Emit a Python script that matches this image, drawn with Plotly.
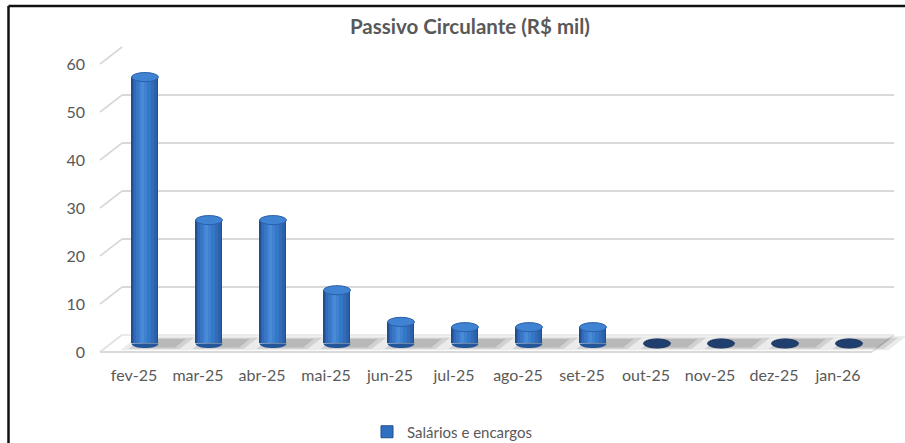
import plotly.graph_objects as go

# ---------------- data ----------------
months = ["fev-25", "mar-25", "abr-25", "mai-25", "jun-25", "jul-25",
          "ago-25", "set-25", "out-25", "nov-25", "dez-25", "jan-26"]
salarios = [55.5, 25.7, 25.7, 11.1, 4.5, 3.4, 3.4, 3.4, 0, 0, 0, 0]
y_ticks = [0, 10, 20, 30, 40, 50, 60]
series_name = "Salários e encargos"
title_text = "Passivo Circulante (R$ mil)"

# ---------------- geometry (pixels) ----------------
W, H = 905, 443
n = len(months)
x_first, cat_px = 134.0, 64.0        # pixel centre of first category, px per category
y0_front, ppu = 352.0, 4.8          # pixel of value 0 on the front plane, px per unit
depth_dx, depth_dy = 22.0, 17.0     # 3-D depth offset (px) from front to back wall
half_cat = 0.53
bar_w = 0.42
FONT = "Lato"
GREY_TXT = "#595959"
GRID = "#d9d9d9"

x_lo, x_hi = -half_cat, n - 1 + half_cat
y_lo_val, y_hi_val = 0, 60


def xdom(shift_px):
    left = x_first + x_lo * cat_px + shift_px
    right = x_first + x_hi * cat_px + shift_px
    return [left / W, right / W]


def ydom(shift_up_px, vlo, vhi):
    p_lo = y0_front - shift_up_px - vlo * ppu
    p_hi = y0_front - shift_up_px - vhi * ppu
    return [1 - p_lo / H, 1 - p_hi / H]


# depth in data units (front-plane coordinates)
ddx = depth_dx / cat_px
ddy = depth_dy / ppu

fig = go.Figure()

# ---- subplot 1 (x, y): back wall gridlines ----
fig.add_trace(go.Scatter(x=[], y=[], xaxis="x", yaxis="y", showlegend=False, hoverinfo="skip"))

# ---- subplot 2 (x2, y2): world / floor, depth lines, shadows ----
wx_range = [(0 - x_first) / cat_px, (W - x_first) / cat_px]
wy_range = [(y0_front - H) / ppu, y0_front / ppu]

# left wall depth lines
dl_x, dl_y = [], []
for v in y_ticks:
    dl_x += [x_lo, x_lo + ddx, None]
    dl_y += [v, v + ddy, None]
fig.add_trace(go.Scatter(x=dl_x, y=dl_y, mode="lines", xaxis="x2", yaxis="y2",
                         line=dict(color=GRID, width=1.6), showlegend=False, hoverinfo="skip"))

# floor
fx = [x_lo, x_hi, x_hi + ddx, x_lo + ddx, x_lo]
fy = [0, 0, ddy, ddy, 0]
fig.add_trace(go.Scatter(x=fx, y=fy, mode="lines", fill="toself", fillcolor="white",
                         xaxis="x2", yaxis="y2", line=dict(color="#e3e3e3", width=1.6),
                         showlegend=False, hoverinfo="skip"))
# front floor edge a bit stronger
fig.add_trace(go.Scatter(x=[x_lo, x_hi], y=[0, 0], mode="lines", xaxis="x2", yaxis="y2",
                         line=dict(color=GRID, width=2), showlegend=False, hoverinfo="skip"))

# soft shadows on the floor
for layer, (hw, d0, d1, op) in enumerate([(0.50, 0.10, 0.92, 0.12),
                                          (0.40, 0.18, 0.84, 0.17),
                                          (0.30, 0.26, 0.76, 0.22)]):
    sx, sy = [], []
    for i in range(n):
        cx = i + 0.25
        for (a, b) in [(cx - hw, d0), (cx + hw, d0), (cx + hw, d1), (cx - hw, d1), (cx - hw, d0)]:
            sx.append(a + b * ddx)
            sy.append(b * ddy)
        sx.append(None)
        sy.append(None)
    fig.add_trace(go.Scatter(x=sx, y=sy, mode="lines", fill="toself",
                             fillcolor=f"rgba(90,90,90,{op})", line=dict(width=0),
                             xaxis="x2", yaxis="y2", showlegend=False, hoverinfo="skip"))

# ---- subplot 3 (x3, y3): cylinders at mid depth ----
bar_ylo, bar_yhi = -4, 64
layers = [  # width, centre shift, colour
    (bar_w, 0.0, "#224f8b"),
    (bar_w * 0.90, -0.004, "#2b61a9"),
    (bar_w * 0.74, -0.012, "#316bb9"),
    (bar_w * 0.54, -0.022, "#3776c5"),
    (bar_w * 0.32, -0.032, "#3e81d0"),
    (bar_w * 0.14, -0.038, "#488cd9"),
]
xs = list(range(n))
for k, (w, s, col) in enumerate(layers):
    fig.add_trace(go.Bar(x=xs, y=salarios, width=w, offset=-w / 2 + s,
                         marker=dict(color=col, line=dict(width=0)),
                         xaxis="x3", yaxis="y3", name=series_name,
                         showlegend=False, hoverinfo="skip" if k else "x+y"))
# legend entry
fig.add_trace(go.Bar(x=[None], y=[None], name=series_name, xaxis="x3", yaxis="y3",
                     marker=dict(color="#3070c0", line=dict(color="#1f4f8f", width=1)),
                     showlegend=True))

shapes = []
cap_h = 0.95  # half-height of the elliptical caps, in value units
for i, v in enumerate(salarios):
    if v > 0:
        x0, x1 = i - bar_w / 2, i + bar_w / 2
        b = cap_h * 4 / 3
        shapes.append(dict(type="path", xref="x3", yref="y3",
                           path=f"M {x0},0 C {x0},{-b} {x1},{-b} {x1},0 Z",
                           fillcolor="#245598", line=dict(width=0), layer="above"))
        shapes.append(dict(type="circle", xref="x3", yref="y3",
                           x0=x0, x1=x1, y0=v - cap_h, y1=v + cap_h,
                           fillcolor="#4083d3", line=dict(color="#2b60a8", width=1),
                           layer="above"))
    else:
        shapes.append(dict(type="circle", xref="x3", yref="y3",
                           x0=i - bar_w / 2, x1=i + bar_w / 2, y0=v - cap_h, y1=v + cap_h,
                           fillcolor="#1f3f6e", line=dict(color="#1b3660", width=1),
                           layer="above"))

# ---- subplot 4 (x4, y4): front plane, labels ----
fig.add_trace(go.Scatter(x=[], y=[], xaxis="x4", yaxis="y4", showlegend=False, hoverinfo="skip"))

# frame
shapes.append(dict(type="line", xref="paper", yref="paper", x0=8.5 / W, x1=1, y0=1 - 6 / H, y1=1 - 6 / H,
                   line=dict(color="#111111", width=2.5)))
shapes.append(dict(type="line", xref="paper", yref="paper", x0=8.5 / W, x1=8.5 / W, y0=0, y1=1 - 6 / H,
                   line=dict(color="#111111", width=2.5)))

tickfont = dict(family=FONT, size=16, color=GREY_TXT)
hidden = dict(visible=False, fixedrange=True, automargin=False)

fig.update_layout(
    width=W, height=H,
    margin=dict(l=0, r=0, t=0, b=0, pad=0, autoexpand=False),
    paper_bgcolor="white", plot_bgcolor="rgba(0,0,0,0)",
    barmode="overlay", bargap=0,
    showlegend=True,
    annotations=[dict(text=f"<b>{title_text}</b>", xref="paper", yref="paper",
                      x=470 / W, y=1 - 26 / H, xanchor="center", yanchor="middle",
                      showarrow=False, font=dict(family=FONT, size=20.5, color=GREY_TXT))],
    legend=dict(orientation="h", x=0.5, xanchor="center", y=1 - 432 / H, yanchor="middle",
                font=dict(family=FONT, size=15, color=GREY_TXT), bgcolor="rgba(0,0,0,0)",
                itemwidth=30),
    # back wall
    xaxis=dict(domain=xdom(depth_dx), range=[x_lo, x_hi], anchor="y", **hidden),
    yaxis=dict(domain=ydom(depth_dy, y_lo_val, y_hi_val), range=[y_lo_val, y_hi_val],
               tickvals=y_ticks, showticklabels=False, showgrid=True, gridcolor=GRID, gridwidth=2,
               zeroline=False, showline=False, ticks="", fixedrange=True, anchor="x",
               automargin=False),
    # world
    xaxis2=dict(domain=[0, 1], range=wx_range, anchor="y2", **hidden),
    yaxis2=dict(domain=[0, 1], range=wy_range, anchor="x2", **hidden),
    # bars at mid depth
    xaxis3=dict(domain=xdom(depth_dx / 2), range=[x_lo, x_hi], anchor="y3", **hidden),
    yaxis3=dict(domain=ydom(depth_dy / 2, bar_ylo, bar_yhi), range=[bar_ylo, bar_yhi],
                anchor="x3", **hidden),
    # front plane with the labels
    xaxis4=dict(domain=xdom(0), range=[x_lo, x_hi], anchor="y4", tickmode="array",
                tickvals=xs, ticktext=months, tickfont=tickfont, showgrid=False,
                zeroline=False, showline=False, ticks="", ticklabelstandoff=12,
                fixedrange=True, automargin=False),
    yaxis4=dict(domain=ydom(0, y_lo_val, y_hi_val), range=[y_lo_val, y_hi_val], anchor="x4",
                tickvals=y_ticks, tickfont=tickfont, showgrid=False, zeroline=False,
                showline=False, ticks="", ticklabelstandoff=14, fixedrange=True,
                automargin=False),
    shapes=shapes,
)

fig.write_html("out.html", config={"displayModeBar": False},
               post_script="document.body.style.margin='0px';document.body.style.overflow='hidden';")
